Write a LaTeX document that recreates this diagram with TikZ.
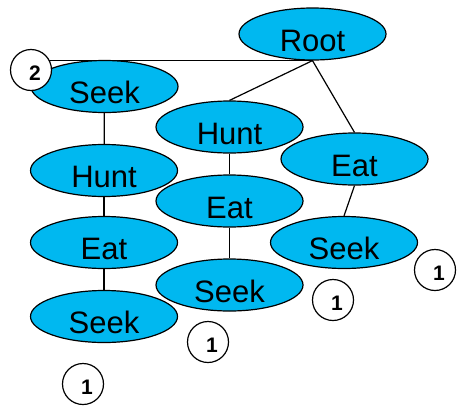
\documentclass[tikz,border=0pt]{standalone}
\usepackage{fontspec}
\setmainfont{Liberation Sans}
\usepackage{tikz}
\usetikzlibrary{positioning, shapes.geometric, backgrounds}
\definecolor{nodeblue}{RGB}{0,184,240}

\begin{document}
\begin{tikzpicture}[
    x=1pt, y=-1pt,
    task/.style={draw, ellipse, fill=nodeblue, line width=1.2pt, inner sep=0pt,
        minimum width=147pt, minimum height=52pt,
        text height=34pt, text depth=0pt, font=\fontsize{31}{31}\selectfont},
    count/.style={draw, circle, fill=white, line width=1.2pt, inner sep=0pt,
        minimum size=41pt, text height=20pt, text depth=0pt,
        font=\fontsize{21}{21}\selectfont\bfseries},
    link/.style={line width=1.2pt}
]
    \useasboundingbox (0,0) rectangle (457,407);

    \node[task] (root) at (312.5,34) {Root};
    \node[task] (seekA) at (104.5,86.5) {Seek};
    \node[task] (huntA) at (104,170.5) {Hunt};
    \node[task] (eatA) at (104,242.5) {Eat};
    \node[task] (seekB) at (104,316.5) {Seek};
    \node[task] (huntM) at (229.5,127) {Hunt};
    \node[task] (eatM) at (229.5,201) {Eat};
    \node[task] (seekM) at (229.5,285) {Seek};
    \node[task] (eatR) at (354.5,159) {Eat};
    \node[task] (seekR) at (344,242.5) {Seek};

    \node[count] (cnt2) at (31,70) {\kern8pt 2};
    \node[count] (cntR) at (435,270) {\kern8pt 1};
    \node[count] (cntM) at (333,300) {\kern8pt 1};
    \node[count] (cntL) at (208,342) {\kern8pt 1};
    \node[count] (cntB) at (83,384) {\kern8pt 1};

    \begin{scope}[on background layer]
        \draw[link] (root.south) -- (root.south -| cnt2.center);
        \draw[link] (root.south) -- (huntM.north);
        \draw[link] (root.south) -- (eatR.north);
        \draw[link] (seekA) -- (huntA);
        \draw[link] (huntA) -- (eatA);
        \draw[link] (eatA) -- (seekB);
        \draw[link] (huntM) -- (eatM);
        \draw[link] (eatM) -- (seekM);
        \draw[link] (eatR.south) -- (seekR.north);
    \end{scope}
\end{tikzpicture}
\end{document}
